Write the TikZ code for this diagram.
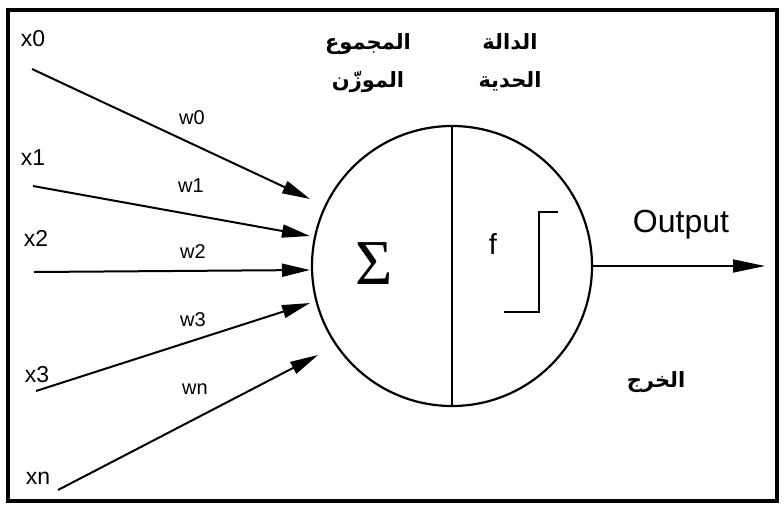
\documentclass[tikz,border=0pt]{standalone}
\usepackage{fontspec}
\setmainfont{Liberation Sans}
\newfontfamily\arabicfont[Script=Arabic]{DejaVu Sans}
\newfontfamily\sigmafont{Liberation Serif}
\TeXXeTstate=1
\usetikzlibrary{arrows.meta}
\begin{document}
\begin{tikzpicture}[x=1pt,y=-1pt,
  inlabel/.style={font=\fontsize{23}{24}\selectfont, inner sep=0pt},
  wlabel/.style={font=\fontsize{20}{22}\selectfont, inner sep=0pt},
  arlabel/.style={font=\arabicfont\bfseries\fontsize{21}{24}\selectfont, inner sep=0pt, text height=13pt, text depth=4pt},
  inarrow/.style={line width=2pt, -{Triangle[length=28pt,width=13pt]}},
  outarrow/.style={line width=1.6pt, -{Triangle[length=32pt,width=13pt]}},
  thickline/.style={line width=2.5pt},
]
\useasboundingbox (0,0) rectangle (784,504);
\draw[line width=3.5pt] (8,10) rectangle (777,501);

% neuron
\node[circle, draw, line width=2.2pt, minimum size=280pt, inner sep=0pt] (neuron) at (452,266) {};
\draw[thickline] (neuron.north) -- (neuron.south);
\node[font=\sigmafont\fontsize{64}{64}\selectfont, inner sep=0pt] (sigma) at (374,264) {Σ};
\node[font=\fontsize{29}{30}\selectfont, inner sep=0pt] (f) at (493,244) {f};
\coordinate (st1) at (558,212);
\coordinate (st2) at (539,212);
\coordinate (st3) at (539,312);
\coordinate (st4) at (504,312);
\draw[thickline] (st1) -- (st2) -- (st3) -- (st4);

% inputs
\node[inlabel] (x0) at (33,39) {x0};
\node[inlabel] (x1) at (33,158) {x1};
\node[inlabel] (x2) at (36,238) {x2};
\node[inlabel] (x3) at (37,375) {x3};
\node[inlabel] (xn) at (38,478) {xn};

\node[wlabel] (w0) at (192,118) {w0};
\node[wlabel] (w1) at (191,186) {w1};
\node[wlabel] (w2) at (193,252) {w2};
\node[wlabel] (w3) at (193,320) {w3};
\node[wlabel] (wn) at (195,389) {wn};

\coordinate (s0) at (32,69);   \coordinate (e0) at (310,199);
\coordinate (s1) at (33,186);  \coordinate (e1) at (310,236);
\coordinate (s2) at (34,272);  \coordinate (e2) at (310,270);
\coordinate (s3) at (36,391);  \coordinate (e3) at (310,303);
\coordinate (sn) at (58,490);  \coordinate (en) at (318,355);

\draw[inarrow] (s0) -- (e0);
\draw[inarrow] (s1) -- (e1);
\draw[inarrow] (s2) -- (e2);
\draw[inarrow] (s3) -- (e3);
\draw[inarrow] (sn) -- (en);

% output
\coordinate (outend) at (765,266);
\draw[outarrow] (neuron.east) -- (outend);
\node[font=\fontsize{32}{33}\selectfont, inner sep=0pt] (outlbl) at (681,225) {Output};

% arabic labels
\node[arlabel] (sum1) at (368,45) {\beginR المجموع\endR};
\node[arlabel] (sum2) at (368,83) {\beginR الموزّن\endR};
\node[arlabel] (fn1) at (510,45) {\beginR الدالة\endR};
\node[arlabel] (fn2) at (510,83) {\beginR الحدية\endR};
\node[arlabel] (outar) at (656,383) {\beginR الخرج\endR};
\end{tikzpicture}
\end{document}
